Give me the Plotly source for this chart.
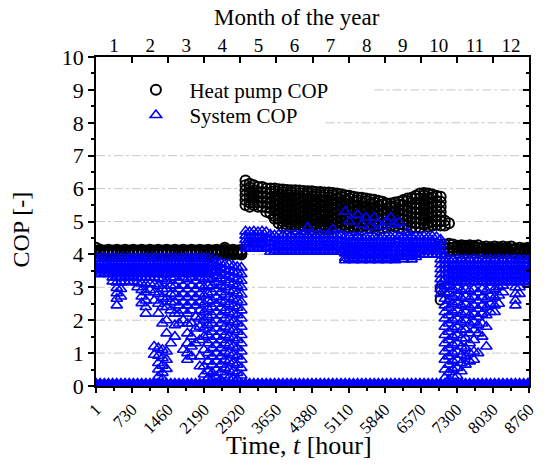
import plotly.graph_objects as go

# ---------------- data ----------------
SAMPLE_HOURS = [1, 85, 169, 253, 337, 421, 505, 589, 673, 757, 841, 925, 1009, 1093,
                1177, 1261, 1345, 1429, 1513, 1597, 1681, 1765, 1849, 1933, 2017, 2101,
                2185, 2269, 2353, 2437, 2521, 2605, 2689, 2773, 2857, 2941, 3025, 3109,
                3193, 3277, 3361, 3445, 3529, 3613, 3697, 3781, 3865, 3949, 4033, 4117,
                4201, 4285, 4369, 4453, 4537, 4621, 4705, 4789, 4873, 4957, 5041, 5125,
                5209, 5293, 5377, 5461, 5545, 5629, 5713, 5797, 5881, 5965, 6049, 6133,
                6217, 6301, 6385, 6469, 6553, 6637, 6721, 6805, 6889, 6973, 7057, 7141,
                7225, 7309, 7393, 7477, 7561, 7645, 7729, 7813, 7897, 7981, 8065, 8149,
                8233, 8317, 8401, 8485, 8569, 8653, 8737, 8760]

HPW = [4.02, 4.07, 4.12]
HPV = [4.0, 4.045, 4.095, 4.14]
HPA1 = [4.28, 4.18, 4.08]
HPA1b = [4.26, 4.22, 4.13, 4.05]
HPA2 = [4.24, 4.14, 4.05]
HPA2b = [4.22, 4.18, 4.09, 4.02]
HPA3 = [4.2, 4.1, 4.02]
HPA3b = [4.18, 4.14, 4.06, 4.0]

HP_COP = [
    [4.05, 4.12, 4.2], HPV, HPW, HPV, HPW, HPV, HPW, HPV, HPW, HPV,
    HPW, HPV, HPW, HPV, HPW, HPV, HPW, HPV, HPW, HPV,
    HPW, HPV, HPW, HPV, HPW, HPV, HPW, HPV, HPW, HPV,
    HPW, [4.0, 4.045, 4.095, 4.14, 4.2], HPW, HPV, HPW, HPV,
    [6.25, 6.1, 5.95, 5.8, 5.65, 5.5],
    [6.15, 6.03, 5.88, 5.73, 5.58, 5.45],
    [6.1, 5.95, 5.8, 5.65, 5.5],
    [6.05, 5.88, 5.73, 5.58, 5.45],
    [6.05, 5.9, 5.75, 5.6, 5.45],
    [6.0, 5.88, 5.73, 5.58, 5.43, 5.3],
    [6.0, 5.85, 5.7, 5.55, 5.4, 5.25],
    [6.0, 5.92, 5.77, 5.62, 5.47, 5.32, 5.17, 5.08],
    [5.98, 5.83, 5.68, 5.53, 5.38, 5.23, 5.08, 4.95],
    [5.97, 5.9, 5.75, 5.6, 5.45, 5.3, 5.15, 5.0, 4.85],
    [5.96, 5.81, 5.66, 5.51, 5.36, 5.21, 5.06, 4.91, 4.78],
    [5.95, 5.88, 5.73, 5.58, 5.43, 5.28, 5.13, 4.98, 4.83],
    [5.95, 5.8, 5.65, 5.5, 5.35, 5.2, 5.05, 4.9, 4.76],
    [5.94, 5.87, 5.72, 5.57, 5.42, 5.27, 5.12, 4.97, 4.82],
    [5.93, 5.78, 5.63, 5.48, 5.33, 5.18, 5.03, 4.88, 4.75],
    [5.92, 5.85, 5.7, 5.55, 5.4, 5.25, 5.1, 4.95, 4.8],
    [5.92, 5.77, 5.62, 5.47, 5.32, 5.17, 5.02, 4.87, 4.75],
    [5.9, 5.83, 5.68, 5.53, 5.38, 5.23, 5.08, 4.93, 4.8],
    [5.9, 5.75, 5.6, 5.45, 5.3, 5.15, 5.0, 4.85, 4.75],
    [5.88, 5.81, 5.66, 5.51, 5.36, 5.21, 5.06, 4.91, 4.78],
    [5.88, 5.73, 5.58, 5.43, 5.28, 5.13, 4.98, 4.85, 4.75],
    [5.87, 5.8, 5.65, 5.5, 5.35, 5.2, 5.05, 4.9, 4.78],
    [5.85, 5.7, 5.55, 5.4, 5.25, 5.1, 4.95, 4.82],
    [5.83, 5.75, 5.6, 5.45, 5.3, 5.15, 5.0, 4.85],
    [5.8, 5.65, 5.5, 5.35, 5.2, 5.05, 4.9, 4.78],
    [5.78, 5.7, 5.55, 5.4, 5.25, 5.1, 4.95, 4.82],
    [5.75, 5.6, 5.45, 5.3, 5.15, 5.0, 4.85, 4.75],
    [5.73, 5.65, 5.5, 5.35, 5.2, 5.05, 4.9, 4.78],
    [5.72, 5.57, 5.42, 5.27, 5.12, 4.97, 4.85, 4.75],
    [5.7, 5.62, 5.47, 5.32, 5.17, 5.02, 4.88],
    [5.68, 5.53, 5.38, 5.23, 5.08, 4.93, 4.8],
    [5.66, 5.58, 5.43, 5.28, 5.13, 4.98, 4.85],
    [5.63, 5.48, 5.33, 5.18, 5.03, 4.88, 4.76],
    [5.6, 5.52, 5.37, 5.22, 5.07, 4.92, 4.8],
    [5.55, 5.4, 5.25, 5.1, 4.95, 4.82],
    [5.55, 5.47, 5.32, 5.17, 5.02, 4.88],
    [5.58, 5.43, 5.28, 5.13, 4.98, 4.85],
    [5.6, 5.52, 5.37, 5.22, 5.07, 4.92, 4.8],
    [5.65, 5.5, 5.35, 5.2, 5.05, 4.9, 4.78],
    [5.7, 5.62, 5.47, 5.32, 5.17, 5.02, 4.88],
    [5.72, 5.57, 5.42, 5.27, 5.12, 4.97, 4.82],
    [5.78, 5.7, 5.55, 5.4, 5.25, 5.1, 4.95, 4.82],
    [5.85, 5.7, 5.55, 5.4, 5.25, 5.1, 4.95, 4.82],
    [5.87, 5.79, 5.64, 5.49, 5.34, 5.19, 5.04, 4.9],
    [5.85, 5.7, 5.55, 5.4, 5.25, 5.1, 4.95, 4.85],
    [5.82, 5.74, 5.59, 5.44, 5.29, 5.14, 4.99, 4.88],
    [5.78, 5.63, 5.48, 5.33, 5.18, 5.03, 4.9],
    [5.75, 5.6, 5.45, 5.3, 5.15, 5.0, 4.88, 2.95, 2.62],
    [5.02, 4.88, 4.3, 4.18],
    [4.95, 4.32, 4.2, 4.1],
    [4.3, 4.2, 4.1], HPA1b, HPA1, HPA1b, HPA1, HPA1b, HPA1,
    HPA2b, HPA2, HPA2b, HPA2, HPA2b, HPA2, HPA2b, HPA2,
    HPA3b, HPA3, HPA3b, HPA3, HPA3b,
]

WB = [3.9, 3.78, 3.66, 3.54, 3.42]
WB2 = [3.88, 3.72, 3.6, 3.48, 3.4]
SB1 = [4.7, 4.57, 4.44, 4.31, 4.18]
SB1b = [4.68, 4.5, 4.37, 4.24, 4.18]
SB2 = [4.6, 4.47, 4.34, 4.21, 4.08]
SB2b = [4.58, 4.4, 4.27, 4.14, 4.08]
SB3 = [4.55, 4.42, 4.29, 4.16, 4.03, 3.9, 3.82]
SB3c = [4.53, 4.35, 4.22, 4.09, 3.96, 3.85]
SB3b = [4.55, 4.42, 4.29, 4.16, 4.03, 3.92]
SB4 = [4.55, 4.42, 4.29, 4.16, 4.0]
SB4b = [4.53, 4.35, 4.22, 4.09, 4.0]
AB = [3.85, 3.72, 3.59, 3.46, 3.33, 3.2]
AB2 = [3.83, 3.65, 3.52, 3.39, 3.26, 3.15]

SYS_COP = [
    WB, WB2, WB, WB2,
    WB + [3.3, 3.18],
    WB2 + [3.3, 3.15, 2.98, 2.82, 2.65, 2.45],
    WB + [3.3, 3.15, 2.95, 2.72],
    WB2 + [3.3, 3.18],
    WB + [3.3, 3.15],
    WB2 + [3.3, 3.18],
    WB + [3.3, 3.15, 3.0],
    WB2 + [3.3, 3.12, 2.92, 2.72, 2.52],
    WB + [3.3, 3.1, 2.85, 2.6, 2.4, 2.2],
    WB2 + [3.3, 3.12, 2.92],
    WB + [3.3, 3.1, 2.85, 2.6, 1.2, 0.95],
    WB2 + [3.28, 3.05, 2.8, 2.5, 2.2, 1.15, 0.92, 0.7, 0.5, 0.28],
    WB + [3.25, 2.95, 2.7, 2.4, 1.9, 1.1, 0.85, 0.62, 0.4, 0.22],
    WB2 + [3.2, 2.95, 2.65, 2.4, 2.0, 1.6, 1.05, 0.8, 0.52],
    WB + [3.3, 3.05, 2.8, 2.55, 2.3, 1.3],
    WB2 + [3.3, 3.05, 2.8, 2.55, 2.2, 1.85, 1.5],
    WB + [3.2, 2.95, 2.7, 2.45, 2.2, 1.9],
    WB2 + [3.3, 3.05, 2.8, 2.55, 2.3, 2.0, 1.1],
    WB + [3.25, 2.95, 2.7, 2.45, 2.2, 1.9, 1.6, 1.3, 1.0, 0.8],
    WB2 + [3.3, 3.05, 2.8, 2.55, 2.3, 1.9, 1.5, 1.2, 0.9],
    WB + [3.2, 2.95, 2.7, 2.45, 2.1, 1.75, 1.3],
    WB2 + [3.3, 3.05, 2.8, 2.55, 2.3, 2.05, 1.8, 1.4, 0.9, 0.6],
    WB + [3.25, 3.0, 2.75, 2.5, 2.25, 2.0, 1.75, 1.5, 1.1, 0.6, 0.35],
    WB2 + [3.3, 3.05, 2.8, 2.6, 2.35, 2.1, 1.85, 1.55, 1.3, 1.0, 0.75, 0.45, 0.25],
    [3.85, 3.72, 3.58, 3.45, 3.25, 3.05, 2.85, 2.6, 2.4, 2.15, 1.9, 1.65, 1.4, 1.15,
     0.9, 0.65, 0.4, 0.2],
    [3.8, 3.66, 3.52, 3.35, 3.15, 2.95, 2.7, 2.5, 2.25, 2.0, 1.75, 1.5, 1.25, 1.0,
     0.75, 0.5, 0.28],
    [3.75, 3.6, 3.45, 3.27, 3.05, 2.85, 2.6, 2.38, 2.15, 1.9, 1.65, 1.4, 1.15, 0.9,
     0.65, 0.42, 0.2],
    [3.7, 3.55, 3.4, 3.22, 3.0, 2.78, 2.55, 2.3, 2.05, 1.8, 1.55, 1.3, 1.05, 0.8,
     0.55, 0.32],
    [3.7, 3.52, 3.35, 3.15, 2.92, 2.7, 2.48, 2.25, 2.0, 1.75, 1.5, 1.25, 1.0, 0.75,
     0.5, 0.25],
    [3.65, 3.48, 3.3, 3.1, 2.88, 2.65, 2.42, 2.2, 1.95, 1.7, 1.45, 1.2, 0.95, 0.7,
     0.45, 0.22],
    [3.62, 3.45, 3.25, 3.05, 2.82, 2.6, 2.38, 2.15, 1.9, 1.65, 1.4, 1.15, 0.9, 0.65,
     0.4, 0.2],
    [3.6, 3.4, 3.2, 3.0, 2.78, 2.55, 2.3, 2.05, 1.8, 1.55, 1.3, 1.05, 0.8, 0.55, 0.32],
    SB1, SB1b, SB1, SB1b, SB1, SB1b,
    SB2, SB2b, SB2, SB2b, SB2, SB2b, SB2, SB2b, SB2, SB2b + [4.82],
    SB2, SB2b, SB2, SB2b, SB2, SB2b + [4.76], SB2, SB2b,
    SB3 + [5.3], SB3c + [5.0], SB3, SB3c + [5.2], SB3 + [4.9], SB3c + [5.12],
    SB3 + [4.85], SB3c + [5.12], SB3 + [4.95], SB3c + [4.85], SB3 + [5.0],
    SB3c + [5.12], SB3 + [4.9],
    SB3b + [4.97], SB3c, SB3b + [4.67], SB3c, SB3b,
    SB4b, SB4, SB4b, SB4, SB4b,
    [4.45, 4.3, 4.15, 4.0, 3.85, 3.7, 3.55, 3.4, 3.25, 3.1, 2.95, 2.8],
    [3.95, 3.82, 3.68, 3.55, 3.4, 3.25, 3.05, 2.85, 2.65, 2.45, 2.25, 2.05, 1.8, 1.55,
     1.3, 1.05, 0.8, 0.5, 0.25],
    AB + [3.05, 2.82, 2.6, 2.38, 2.15, 1.9, 1.65, 1.4, 1.15, 0.9, 0.65, 0.42, 0.2],
    AB2 + [2.95, 2.72, 2.5, 2.25, 2.0, 1.75, 1.5, 1.25, 1.0, 0.75, 0.5, 0.3],
    AB + [3.0, 2.78, 2.55, 2.3, 2.05, 1.8, 1.55, 1.3, 1.05, 0.8, 0.55, 0.3],
    AB2 + [2.9, 2.68, 2.45, 2.2, 1.95, 1.7, 1.45, 1.2, 0.95, 0.7, 0.45],
    AB + [2.95, 2.72, 2.5, 2.25, 2.0, 1.72, 1.45, 1.15, 0.9, 0.65],
    AB2 + [2.9, 2.65, 2.4, 2.15, 1.9, 1.6, 1.3, 1.0, 0.75],
    AB + [2.95, 2.7, 2.45, 2.2, 1.95, 1.7, 1.4, 1.05, 0.8],
    AB2 + [2.85, 2.6, 2.35, 2.1, 1.85, 1.6, 1.0],
    AB + [2.95, 2.7, 2.45, 2.2, 1.9, 1.5],
    AB2 + [2.9, 2.65, 2.4, 2.15, 1.8, 1.2],
    AB + [3.0, 2.75, 2.5, 2.25],
    AB2 + [2.95, 2.7, 2.45, 2.25],
    AB + [3.0, 2.75, 2.5],
    AB2 + [3.05, 2.85],
    AB,
    AB2,
    AB + [3.0, 2.8, 2.6, 2.45],
    AB2 + [3.0, 2.8],
    AB,
    AB2,
    AB,
]

OFF_COP = 0.08  # system off: COP drawn at the bottom of the axis all year

X_TICKS = [1, 730, 1460, 2190, 2920, 3650, 4380, 5110, 5840, 6570, 7300, 8030, 8760]
MONTHS = ["1", "2", "3", "4", "5", "6", "7", "8", "9", "10", "11", "12"]
MONTH_CENTERS = [0.5, 1.5, 2.5, 3.5, 4.5, 5.5, 6.5, 7.5, 8.5, 9.5, 10.5, 11.5]
MONTH_EDGES = [0, 1, 2, 3, 4, 5, 6, 7, 8, 9, 10, 11, 12]
GRID_LEVELS = [1, 2, 3, 4, 5, 6, 7, 8, 9]
# fraction of the plot width where each grid line starts (legend text hides the start)
GRID_START = {8: 0.53, 9: 0.643}

# ---------------- expand columns into points ----------------
hp_x, hp_y, sys_x, sys_y = [], [], [], []
for h, vals in zip(SAMPLE_HOURS, HP_COP):
    for v in vals:
        hp_x.append(h)
        hp_y.append(v)
for h, vals in zip(SAMPLE_HOURS, SYS_COP):
    for v in vals:
        sys_x.append(h)
        sys_y.append(v)

FONT = "Liberation Serif"
BLUE = "#0000ff"

fig = go.Figure()
fig.add_trace(go.Scatter(
    x=hp_x, y=hp_y, mode="markers", name="Heat pump COP", legend="legend",
    marker=dict(symbol="circle-open", size=10, color="black",
                line=dict(width=2.0, color="black")),
))
fig.add_trace(go.Scatter(
    x=SAMPLE_HOURS, y=[OFF_COP for _ in SAMPLE_HOURS], mode="markers",
    showlegend=False, hoverinfo="skip",
    marker=dict(symbol="triangle-up", size=10, color=BLUE,
                line=dict(width=1.5, color=BLUE)),
))
fig.add_trace(go.Scatter(
    x=sys_x, y=sys_y, mode="markers", name="System COP", legend="legend2",
    marker=dict(symbol="triangle-up-open", size=10, color=BLUE,
                line=dict(width=1.6, color=BLUE)),
))
# invisible helpers that activate the extra axes
fig.add_trace(go.Scatter(x=[0, 12], y=[0, 0], xaxis="x2", yaxis="y2", mode="markers",
                         marker=dict(opacity=0), showlegend=False, hoverinfo="skip"))
fig.add_trace(go.Scatter(x=[0, 12], y=[0, 0], xaxis="x3", yaxis="y2", mode="markers",
                         marker=dict(opacity=0), showlegend=False, hoverinfo="skip"))

grid_shapes = [
    dict(type="line", xref="x domain", yref="y", x0=GRID_START.get(lv, 0.0), x1=1.0,
         y0=lv, y1=lv, layer="below",
         line=dict(color="#c8c8c8", width=1, dash="dashdot"))
    for lv in GRID_LEVELS
]

LEG = dict(xanchor="left", yanchor="top", bgcolor="rgba(0,0,0,0)", borderwidth=0,
           font=dict(family=FONT, size=21, color="black"), itemwidth=57)

fig.update_layout(
    width=546, height=466,
    margin=dict(l=96, r=8, t=57, b=80),
    paper_bgcolor="white", plot_bgcolor="white",
    font=dict(family=FONT, color="black"),
    showlegend=True,
    legend=dict(x=0.061, y=0.962, **LEG),
    legend2=dict(x=0.061, y=0.885, **LEG),
    xaxis=dict(
        range=[1, 8760], tickmode="array", tickvals=X_TICKS,
        ticktext=[str(t) for t in X_TICKS], tickangle=-45,
        tickfont=dict(family=FONT, size=17),
        ticklabeloverflow="allow",
        ticks="outside", ticklen=5, tickwidth=1.5, tickcolor="black",
        minor=dict(dtick=365, tick0=0, ticks="outside", ticklen=3,
                   tickwidth=1.5, tickcolor="black", showgrid=False),
        showline=True, linecolor="black", linewidth=1.5,
        showgrid=False, zeroline=False,
    ),
    xaxis2=dict(
        overlaying="x", side="top", range=[0, 12], tickmode="array",
        tickvals=MONTH_EDGES, showticklabels=False,
        ticks="inside", ticklen=6, tickwidth=1.5, tickcolor="black",
        showline=True, linecolor="black", linewidth=1.5,
        showgrid=False, zeroline=False,
    ),
    xaxis3=dict(
        overlaying="x", side="top", range=[0, 12], tickmode="array",
        tickvals=MONTH_CENTERS, ticktext=MONTHS, ticks="",
        tickfont=dict(family=FONT, size=19),
        showline=False, showgrid=False, zeroline=False,
    ),
    yaxis=dict(
        range=[0, 10], tickmode="linear", tick0=0, dtick=1,
        tickfont=dict(family=FONT, size=22),
        ticks="outside", ticklen=6, tickwidth=1.5, tickcolor="black",
        minor=dict(dtick=0.5, ticks="outside", ticklen=3, tickwidth=1.5,
                   tickcolor="black", showgrid=False),
        showline=True, linecolor="black", linewidth=1.5,
        showgrid=False, zeroline=False,
    ),
    yaxis2=dict(
        overlaying="y", side="right", range=[0, 10], tickmode="linear",
        tick0=0, dtick=1, showticklabels=False,
        ticks="inside", ticklen=6, tickwidth=1.5, tickcolor="black",
        minor=dict(dtick=0.5, ticks="inside", ticklen=3, tickwidth=1.5,
                   tickcolor="black"),
        showline=True, linecolor="black", linewidth=1.5,
        showgrid=False, zeroline=False,
    ),
    shapes=grid_shapes,
    annotations=[
        dict(text="Time, <i>t</i> [hour]", xref="paper", yref="paper",
             x=0.468, y=-0.180, xanchor="center", yanchor="middle",
             showarrow=False, font=dict(family=FONT, size=26, color="black")),
        dict(text="Month of the year", xref="paper", yref="paper",
             x=0.464, y=1.119, xanchor="center", yanchor="middle",
             showarrow=False, font=dict(family=FONT, size=23, color="black")),
        dict(text="COP [-]", xref="paper", yref="paper", textangle=-90,
             x=-0.172, y=0.474, xanchor="center", yanchor="middle",
             showarrow=False, font=dict(family=FONT, size=24, color="black")),
    ],
)

fig.write_html("out.html")
